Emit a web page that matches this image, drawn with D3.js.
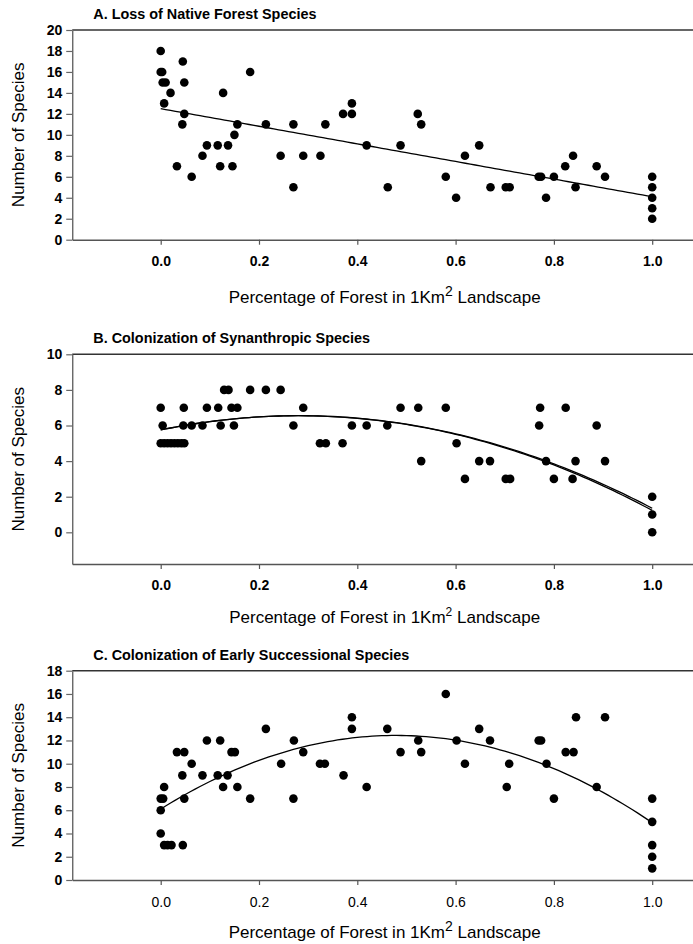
<!DOCTYPE html>
<html><head><meta charset="utf-8">
<script src="https://cdn.jsdelivr.net/npm/d3@7"></script>
<style>
html,body{margin:0;padding:0;background:#fff;overflow:hidden}
svg{display:block;font-family:"Liberation Sans",Arial,Helvetica,sans-serif}
</style></head><body>
<svg id="chart" width="693" height="944"></svg>
<script>
// ---------- data ----------
const xTicks = [0, 0.2, 0.4, 0.6, 0.8, 1.0];

const titleA = "A. Loss of Native Forest Species";
const titleB = "B. Colonization of Synanthropic Species";
const titleC = "C. Colonization of Early Successional Species";
const yTitle = "Number of Species";

const aX = [0,0,0.003,0.004,0.010,0.007,0.020,0.033,0.045,0.048,0.048,0.044,0.063,0.085,0.094,0.116,0.121,0.127,0.137,0.146,0.150,0.156,0.182,0.214,0.244,0.270,0.270,0.290,0.325,0.335,0.371,0.389,0.389,0.419,0.462,0.488,0.523,0.530,0.580,0.601,0.619,0.648,0.671,0.702,0.710,0.769,0.774,0.784,0.800,0.823,0.839,0.844,0.887,0.904,1,1,1,1,1];
const aY = [18,16,16,15,15,13,14,7,17,15,12,11,6,8,9,9,7,14,9,7,10,11,16,11,8,11,5,8,8,11,12,12,13,9,5,9,12,11,6,4,8,9,5,5,5,6,6,4,6,7,8,5,7,6,6,5,4,3,2];
const aYTicks = [0,2,4,6,8,10,12,14,16,18,20];
const fitA = [12.5, -8.4];

const bX = [0,0.004,0,0.007,0.014,0.021,0.028,0.035,0.042,0.048,0.047,0.046,0.063,0.085,0.094,0.117,0.122,0.129,0.138,0.144,0.149,0.156,0.182,0.214,0.244,0.270,0.290,0.324,0.336,0.370,0.389,0.419,0.461,0.488,0.524,0.530,0.580,0.602,0.619,0.648,0.670,0.702,0.711,0.770,0.772,0.784,0.800,0.824,0.838,0.844,0.887,0.904,1,1,1];
const bY = [7,6,5,5,5,5,5,5,5,5,7,6,6,6,7,7,6,8,8,7,6,7,8,8,8,6,7,5,5,5,6,6,6,7,7,4,7,5,3,4,4,3,3,6,7,4,3,7,3,4,6,4,2,1,0];
const bYTicks = [0,2,4,6,8,10];
const fitB1 = [5.75, 5.69, -10.09];
const fitB2 = [5.75, 5.69, -10.09, -0.12];

const cX = [0,0.005,0,0,0.007,0.007,0.014,0.022,0.033,0.048,0.044,0.048,0.045,0.063,0.085,0.094,0.116,0.121,0.127,0.136,0.144,0.151,0.156,0.182,0.214,0.245,0.271,0.270,0.290,0.324,0.334,0.372,0.389,0.389,0.419,0.461,0.488,0.524,0.530,0.580,0.602,0.619,0.648,0.670,0.704,0.709,0.769,0.774,0.785,0.800,0.824,0.840,0.845,0.887,0.904,1,1,1,1,1];
const cY = [7,7,6,4,8,3,3,3,11,11,9,7,3,10,9,12,9,12,8,9,11,11,8,7,13,10,12,7,11,10,10,9,14,13,8,13,11,12,11,16,12,10,13,12,8,10,12,12,10,7,11,11,14,8,14,7,5,3,2,1];
const cYTicks = [0,2,4,6,8,10,12,14,16,18];
const fitC = [6.1, 26.45, -27.62];

// ---------- drawing ----------
const svg = d3.select("#chart");
const x = d3.scaleLinear().domain([-0.18, 1.09]).range([72.23, 696.44]);
const poly = (c, v) => c.reduce((s, k, i) => s + k * Math.pow(v, i), 0);
const curveXs = d3.range(0, 1.0001, 0.01);

function panel(cfg) {
  const y = d3.scaleLinear().domain(cfg.yDomain).range(cfg.yRange);
  const g = svg.append("g");
  const top = cfg.yRange[1], bottom = cfg.yRange[0];

  // top frame line
  g.append("line").attr("x1", x.range()[0]).attr("x2", 693).attr("y1", top).attr("y2", top)
    .attr("stroke", "#333").attr("stroke-width", 1.4);

  // y axis
  const ya = g.append("g").attr("transform", `translate(${x.range()[0]},0)`)
    .call(d3.axisLeft(y).tickValues(cfg.yTicks).tickSize(6).tickSizeOuter(0).tickPadding(4).tickFormat(d3.format("d")));
  ya.select(".domain").attr("stroke", "#666").attr("stroke-width", 1.4);
  ya.selectAll(".tick line").attr("stroke", "#666").attr("stroke-width", 1.2);
  ya.selectAll(".tick text").attr("font-size", 14).attr("font-weight", "bold").attr("fill", "#000")
    .attr("font-family", '"Liberation Sans",Arial,sans-serif');

  // x axis
  const xa = g.append("g").attr("transform", `translate(0,${bottom})`)
    .call(d3.axisBottom(x).tickValues(xTicks).tickSize(5).tickSizeOuter(0).tickPadding(cfg.xPad).tickFormat(d3.format(".1f")));
  xa.select(".domain").attr("stroke", "#555").attr("stroke-width", 1.4);
  xa.selectAll(".tick line").attr("stroke", "#555").attr("stroke-width", 1.2);
  xa.selectAll(".tick text").attr("font-size", 14).attr("font-weight", cfg.xBold ? "bold" : "normal")
    .attr("fill", "#000").attr("font-family", '"Liberation Sans",Arial,sans-serif');

  // title
  g.append("text").attr("x", 93.3).attr("y", cfg.titleY).attr("font-size", 14.4).attr("font-weight", "bold")
    .text(cfg.title);

  // y title
  g.append("text").attr("transform", `translate(24,${(top + cfg.yZeroPx) / 2 + cfg.yTitleShift}) rotate(-90)`)
    .attr("text-anchor", "middle").attr("font-size", 17).text(yTitle);

  // x title
  const xt = g.append("text").attr("x", 384.7).attr("y", cfg.xTitleY).attr("text-anchor", "middle").attr("font-size", 17);
  xt.append("tspan").text("Percentage of Forest in 1Km");
  xt.append("tspan").attr("font-size", cfg.supSize).attr("dy", -7).text("2");
  xt.append("tspan").attr("dy", 7).text(" Landscape");

  // fit lines
  const line = d3.line().x(d => x(d[0])).y(d => y(d[1]));
  cfg.fits.forEach(f => {
    g.append("path").datum(curveXs.map(v => [v, poly(f, v)]))
      .attr("d", line).attr("fill", "none").attr("stroke", "#000").attr("stroke-width", 1.3);
  });

  // points
  g.selectAll("circle.pt").data(cfg.xs.map((v, i) => [v, cfg.ys[i]])).join("circle")
    .attr("class", "pt").attr("cx", d => x(d[0])).attr("cy", d => y(d[1])).attr("r", 4.3).attr("fill", "#000");
}

panel({ title: titleA, titleY: 19, xs: aX, ys: aY, yDomain: [0, 20], yRange: [239.7, 30], yZeroPx: 239.7,
        yTicks: aYTicks, fits: [fitA], xBold: true, xPad: 11, xTitleY: 303, supSize: 14, yTitleShift: 0 });
panel({ title: titleB, titleY: 343, xs: bX, ys: bY, yDomain: [-1.78, 10], yRange: [564, 354.3], yZeroPx: 532.3,
        yTicks: bYTicks, fits: [fitB1, fitB2], xBold: true, xPad: 11, xTitleY: 623, supSize: 12, yTitleShift: 16 });
panel({ title: titleC, titleY: 660, xs: cX, ys: cY, yDomain: [0, 18], yRange: [880, 670.7], yZeroPx: 880,
        yTicks: cYTicks, fits: [fitC], xBold: false, xPad: 12, xTitleY: 938, supSize: 14, yTitleShift: 0 });
</script>
</body></html>
